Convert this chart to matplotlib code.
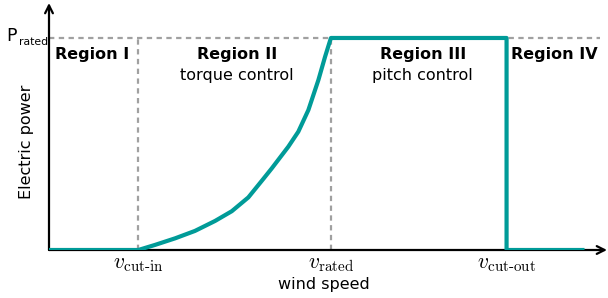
import matplotlib
matplotlib.use("Agg")
import matplotlib.pyplot as plt
from matplotlib.transforms import offset_copy

# data (wind speed in arbitrary units, power normalized to rated)
v_cut_in = 4.0
v_rated = 12.63
v_cut_out = 20.5
v_end = 23.9
p_rated = 1.0

curve_v = [0.0, 4.0, 4.75, 5.65, 6.54, 7.44, 8.19, 8.93, 9.60, 9.98,
           10.72, 11.17, 11.62, 12.07, 12.37, 12.63, 20.5, 20.5, 23.9]
curve_p = [0.0, 0.0, 0.024, 0.055, 0.090, 0.137, 0.183, 0.248, 0.335, 0.385,
           0.487, 0.558, 0.660, 0.802, 0.912, 1.0, 1.0, 0.0, 0.0]

tick_pos = [v_cut_in, v_rated, v_cut_out]
tick_labels = [r'$v_{\text{cut-in}}$', r'$v_{\text{rated}}$', r'$v_{\text{cut-out}}$']

region_titles = ['Region I', 'Region II', 'Region III', 'Region IV']
region_sub = ['', 'torque control', 'pitch control', '']
region_x = [1.95, 8.43, 16.75, 22.65]

teal = '#009b98'
grey = '#a0a0a0'

plt.rcParams['mathtext.fontset'] = 'cm'
plt.rcParams['font.family'] = ['DejaVu Sans']

fig = plt.figure(figsize=(6.08, 2.98), dpi=100)
ax = fig.add_axes([49/608, 48/298, 558/608, 247/298])
ax.set_xlim(0, 25)
ax.set_ylim(0, 1.165)
for s in ax.spines.values():
    s.set_visible(False)

# dashed guides
ax.plot([0, 24.7], [p_rated, p_rated], ls=(0, (2.4, 2.0)), color=grey, lw=1.6, zorder=1)
for v in [v_cut_in, v_rated]:
    ax.plot([v, v], [0, p_rated], ls=(0, (2.4, 2.0)), color=grey, lw=1.6, zorder=1)

# power curve
ax.plot(curve_v, curve_p, color=teal, lw=3.0, solid_joinstyle='round', zorder=3)

# axis arrows
ax.annotate('', xy=(1.0, 0), xytext=(0, 0), xycoords='axes fraction',
            arrowprops=dict(arrowstyle='->', lw=1.6, color='black', mutation_scale=14,
                            shrinkA=0, shrinkB=0), zorder=2)
ax.annotate('', xy=(0, 1.0), xytext=(0, 0), xycoords='axes fraction',
            arrowprops=dict(arrowstyle='->', lw=1.6, color='black', mutation_scale=14,
                            shrinkA=0, shrinkB=0), zorder=2)

ax.set_xticks(tick_pos)
ax.set_xticklabels(tick_labels, fontsize=15.5)
ax.set_yticks([])
ax.tick_params(axis='both', length=0)
ax.tick_params(axis='x', pad=3)

# P_rated label
trans = ax.get_yaxis_transform()
ax.text(-0.057, p_rated - 0.015, 'P', transform=trans, ha='right', va='baseline',
        fontsize=12.5, clip_on=False)
ax.text(-0.054, p_rated - 0.035, 'rated', transform=trans, ha='left', va='baseline',
        fontsize=7.8, clip_on=False)

ax.set_xlabel('wind speed', fontsize=11.5)
ax.xaxis.set_label_coords(0.493, -0.11)
ax.set_ylabel('Electric power', fontsize=11.5)
ax.yaxis.set_label_coords(-0.027, 0.44)

for x, t, s in zip(region_x, region_titles, region_sub):
    ax.text(x, 0.92, t, ha='center', va='center', fontsize=11.5, fontweight='bold')
    if s:
        ax.text(x, 0.825, s, ha='center', va='center', fontsize=11.5)

fig.savefig('out.png', dpi=100)
